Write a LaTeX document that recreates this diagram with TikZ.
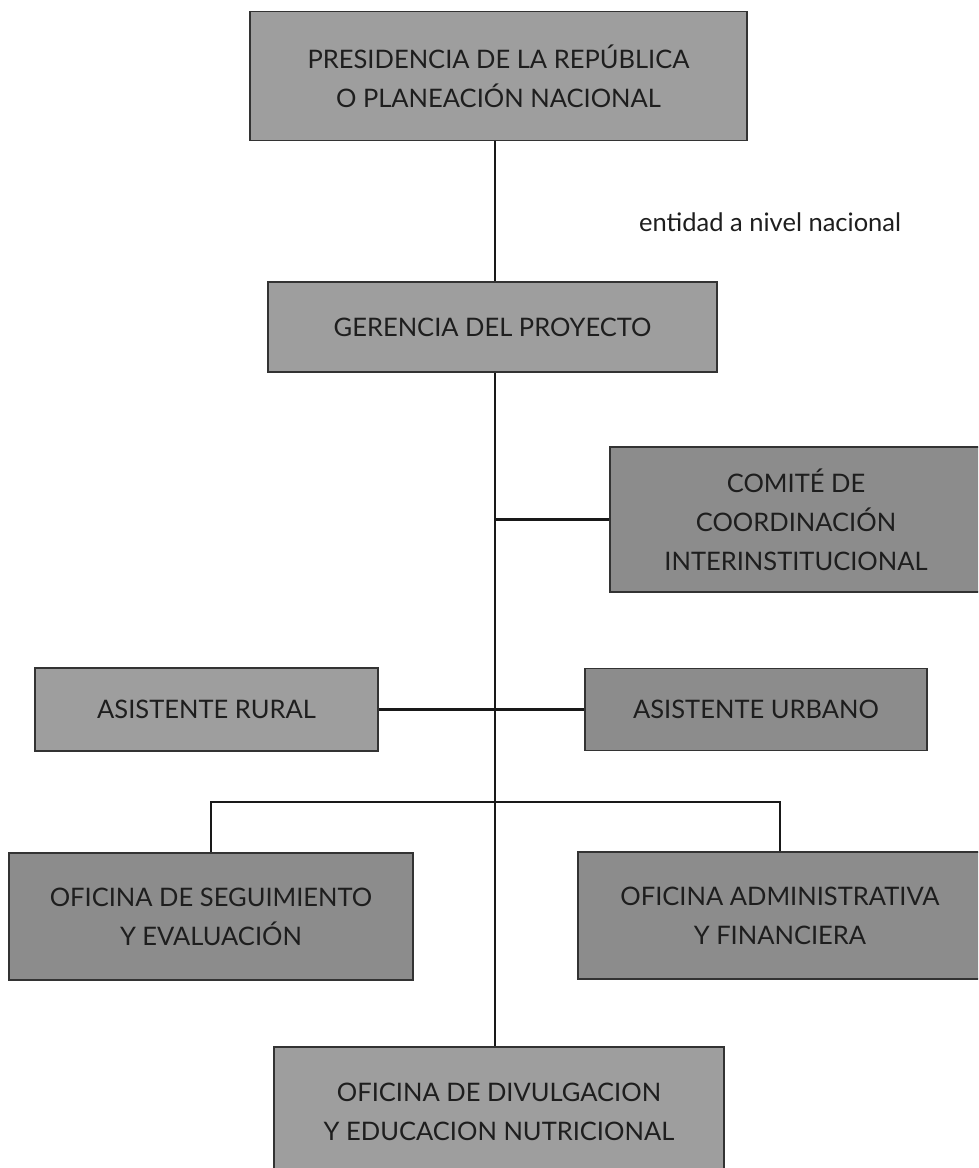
\documentclass[tikz,border=0pt]{standalone}
\usepackage{fontspec}
\setmainfont{Lato}
\definecolor{boxA}{HTML}{9E9E9E}
\definecolor{boxB}{HTML}{8C8C8C}
\definecolor{edge}{HTML}{333333}
\definecolor{ink}{HTML}{1E1E1E}
\begin{document}
\begin{tikzpicture}[x=1pt,y=-1pt,
  orgbox/.style={draw=edge, line width=1.8pt, fill=boxA, inner sep=0pt,
    align=center, text=ink, font=\fontsize{25.5}{39}\selectfont},
  darkbox/.style={orgbox, fill=boxB},
  link/.style={draw=black!90, line width=2.4pt}]
\clip (0,0) rectangle (978,1168);
\fill[white] (0,0) rectangle (978,1168);
\coordinate (sx) at (495,0);
% boxes
\node[orgbox, minimum width=497pt, minimum height=129pt] (p) at (498.5,76)
  {PRESIDENCIA DE LA REPÚBLICA\\O PLANEACIÓN NACIONAL};
\node[orgbox, minimum width=449pt, minimum height=90pt] (g) at (492.5,327)
  {GERENCIA DEL PROYECTO};
\node[darkbox, minimum width=372pt, minimum height=145pt] (c) at (796,519.5)
  {COMITÉ DE\\COORDINACIÓN\\INTERINSTITUCIONAL};
\node[orgbox, minimum width=343pt, minimum height=83pt] (r) at (206.5,709.5)
  {ASISTENTE RURAL};
\node[darkbox, minimum width=342pt, minimum height=82pt] (u) at (756,709.5)
  {ASISTENTE URBANO};
\node[darkbox, minimum width=404pt, minimum height=127pt] (s) at (211,916.5)
  {OFICINA DE SEGUIMIENTO\\Y EVALUACIÓN};
\node[darkbox, minimum width=404pt, minimum height=127pt] (a) at (780,915.5)
  {OFICINA ADMINISTRATIVA\\Y FINANCIERA};
\node[orgbox, minimum width=450pt, minimum height=130pt] (d) at (499,1112)
  {OFICINA DE DIVULGACION\\Y EDUCACION NUTRICIONAL};
\node[text=ink, font=\fontsize{25.5}{30}\selectfont, anchor=west, inner sep=0pt] (t) at (639,222)
  {entidad a nivel nacional};
% connectors
\draw[link] (sx |- p.south) -- (sx |- g.north);
\draw[link] (sx |- g.south) -- (sx |- d.north);
\draw[link] (sx |- c.west) -- (c.west);
\draw[link] (r.east) -- (u.west);
\draw[link] (s.north) -- ++(0,-50) -| (a.north);
\end{tikzpicture}
\end{document}
